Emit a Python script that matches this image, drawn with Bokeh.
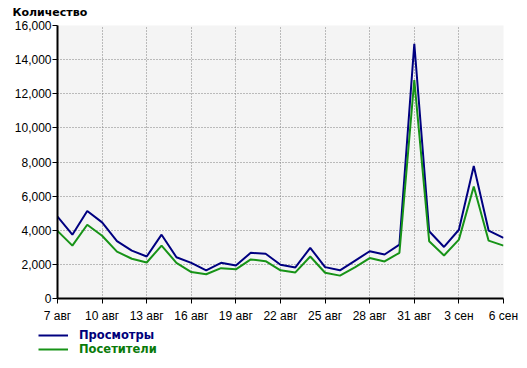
from bokeh.plotting import figure
from bokeh.layouts import column
from bokeh.models import (FixedTicker, NumeralTickFormatter, Legend, LegendItem, Range1d)
from bokeh.embed import file_html
from bokeh.resources import INLINE

# ---- data ----
day_labels = ["7 авг", "8 авг", "9 авг", "10 авг", "11 авг", "12 авг", "13 авг", "14 авг",
              "15 авг", "16 авг", "17 авг", "18 авг", "19 авг", "20 авг", "21 авг", "22 авг",
              "23 авг", "24 авг", "25 авг", "26 авг", "27 авг", "28 авг", "29 авг", "30 авг",
              "31 авг", "1 сен", "2 сен", "3 сен", "4 сен", "5 сен", "6 сен"]
views = [4800, 3740, 5130, 4460, 3360, 2810, 2460, 3740, 2420, 2090, 1650, 2090, 1940,
         2680, 2620, 1980, 1820, 2970, 1840, 1650, 2210, 2770, 2580, 3160, 14930,
         3940, 3020, 4030, 7760, 3980, 3550]
visitors = [3960, 3100, 4320, 3680, 2750, 2330, 2110, 3100, 2090, 1550, 1420, 1780, 1710,
            2290, 2190, 1650, 1530, 2460, 1510, 1340, 1820, 2370, 2170, 2680, 12800,
            3360, 2520, 3450, 6560, 3390, 3100]
series_names = ["Просмотры", "Посетители"]
y_title = "Количество"
tick_days = list(range(0, 31, 3))
y_ticks = list(range(0, 16001, 2000))

x = list(range(len(day_labels)))

blue = "#000080"
green = "#179317"

p = figure(width=527, height=325, output_backend="svg", toolbar_location=None,
           x_range=Range1d(0, 30), y_range=Range1d(0, 16000),
           min_border_left=57, min_border_right=24, min_border_top=25, min_border_bottom=25)
p.frame_align = False
p.background_fill_color = "#f4f4f4"
p.border_fill_color = "white"
p.outline_line_color = None

p.title.text = y_title
p.title.text_font = "DejaVu Sans"
p.title.text_font_style = "bold"
p.title.text_font_size = "11px"
p.title.text_color = "black"
p.title.align = "left"
p.title.offset = -45
p.title.standoff = 10
p.title.vertical_align = "top"

p.line(x, views, line_color=blue, line_width=2)
p.line(x, visitors, line_color=green, line_width=2)

for ax in (p.xaxis[0], p.yaxis[0]):
    ax.axis_line_color = "black"
    ax.axis_line_width = 2
    ax.major_tick_line_color = "black"
    ax.major_tick_in = 0
    ax.major_tick_out = 5
    ax.minor_tick_line_color = None
    ax.major_label_text_font = "Liberation Sans"
    ax.major_label_text_font_size = "12px"
    ax.major_label_text_color = "black"

p.xaxis.ticker = FixedTicker(ticks=tick_days)
p.xaxis.major_label_overrides = {d: day_labels[d] for d in tick_days}
p.xaxis.major_label_standoff = 5
p.yaxis.ticker = FixedTicker(ticks=y_ticks)
p.yaxis.formatter = NumeralTickFormatter(format="0,0")
p.yaxis.major_label_standoff = 1

for g in (p.xgrid[0], p.ygrid[0]):
    g.grid_line_color = "#808080"
    g.grid_line_dash = "1 2"
    g.grid_line_width = 1

# legend strip below the chart
q = figure(width=527, height=43, output_backend="svg", toolbar_location=None,
           x_axis_type=None, y_axis_type=None, x_range=Range1d(0, 1), y_range=Range1d(0, 1),
           min_border=0, min_border_left=0, min_border_right=0,
           min_border_top=0, min_border_bottom=0)
q.frame_align = False
q.outline_line_color = None
q.background_fill_color = "white"
q.border_fill_color = "white"
q.xgrid.visible = False
q.ygrid.visible = False
# off-range stand-ins, used only for the legend swatches
d1 = q.line([-5, -4], [-5, -5], line_color=blue, line_width=2)
d2 = q.line([-5, -4], [-5, -5], line_color=green, line_width=2)

for r, name, col, ly in ((d1, series_names[0], "#00007a", 26), (d2, series_names[1], "#0a7a0a", 12)):
    lg = Legend(items=[LegendItem(label=name, renderers=[r])], location=(38, ly),
                glyph_width=30, glyph_height=14, label_height=14, label_standoff=11,
                padding=0, margin=0, spacing=0, border_line_color=None,
                background_fill_alpha=0, label_text_font="DejaVu Sans",
                label_text_font_style="bold", label_text_font_size="11.5px",
                label_text_color=col)
    q.add_layout(lg, "center")

layout = column(p, q, spacing=0)
open("out.html", "w").write(file_html(layout, INLINE))
